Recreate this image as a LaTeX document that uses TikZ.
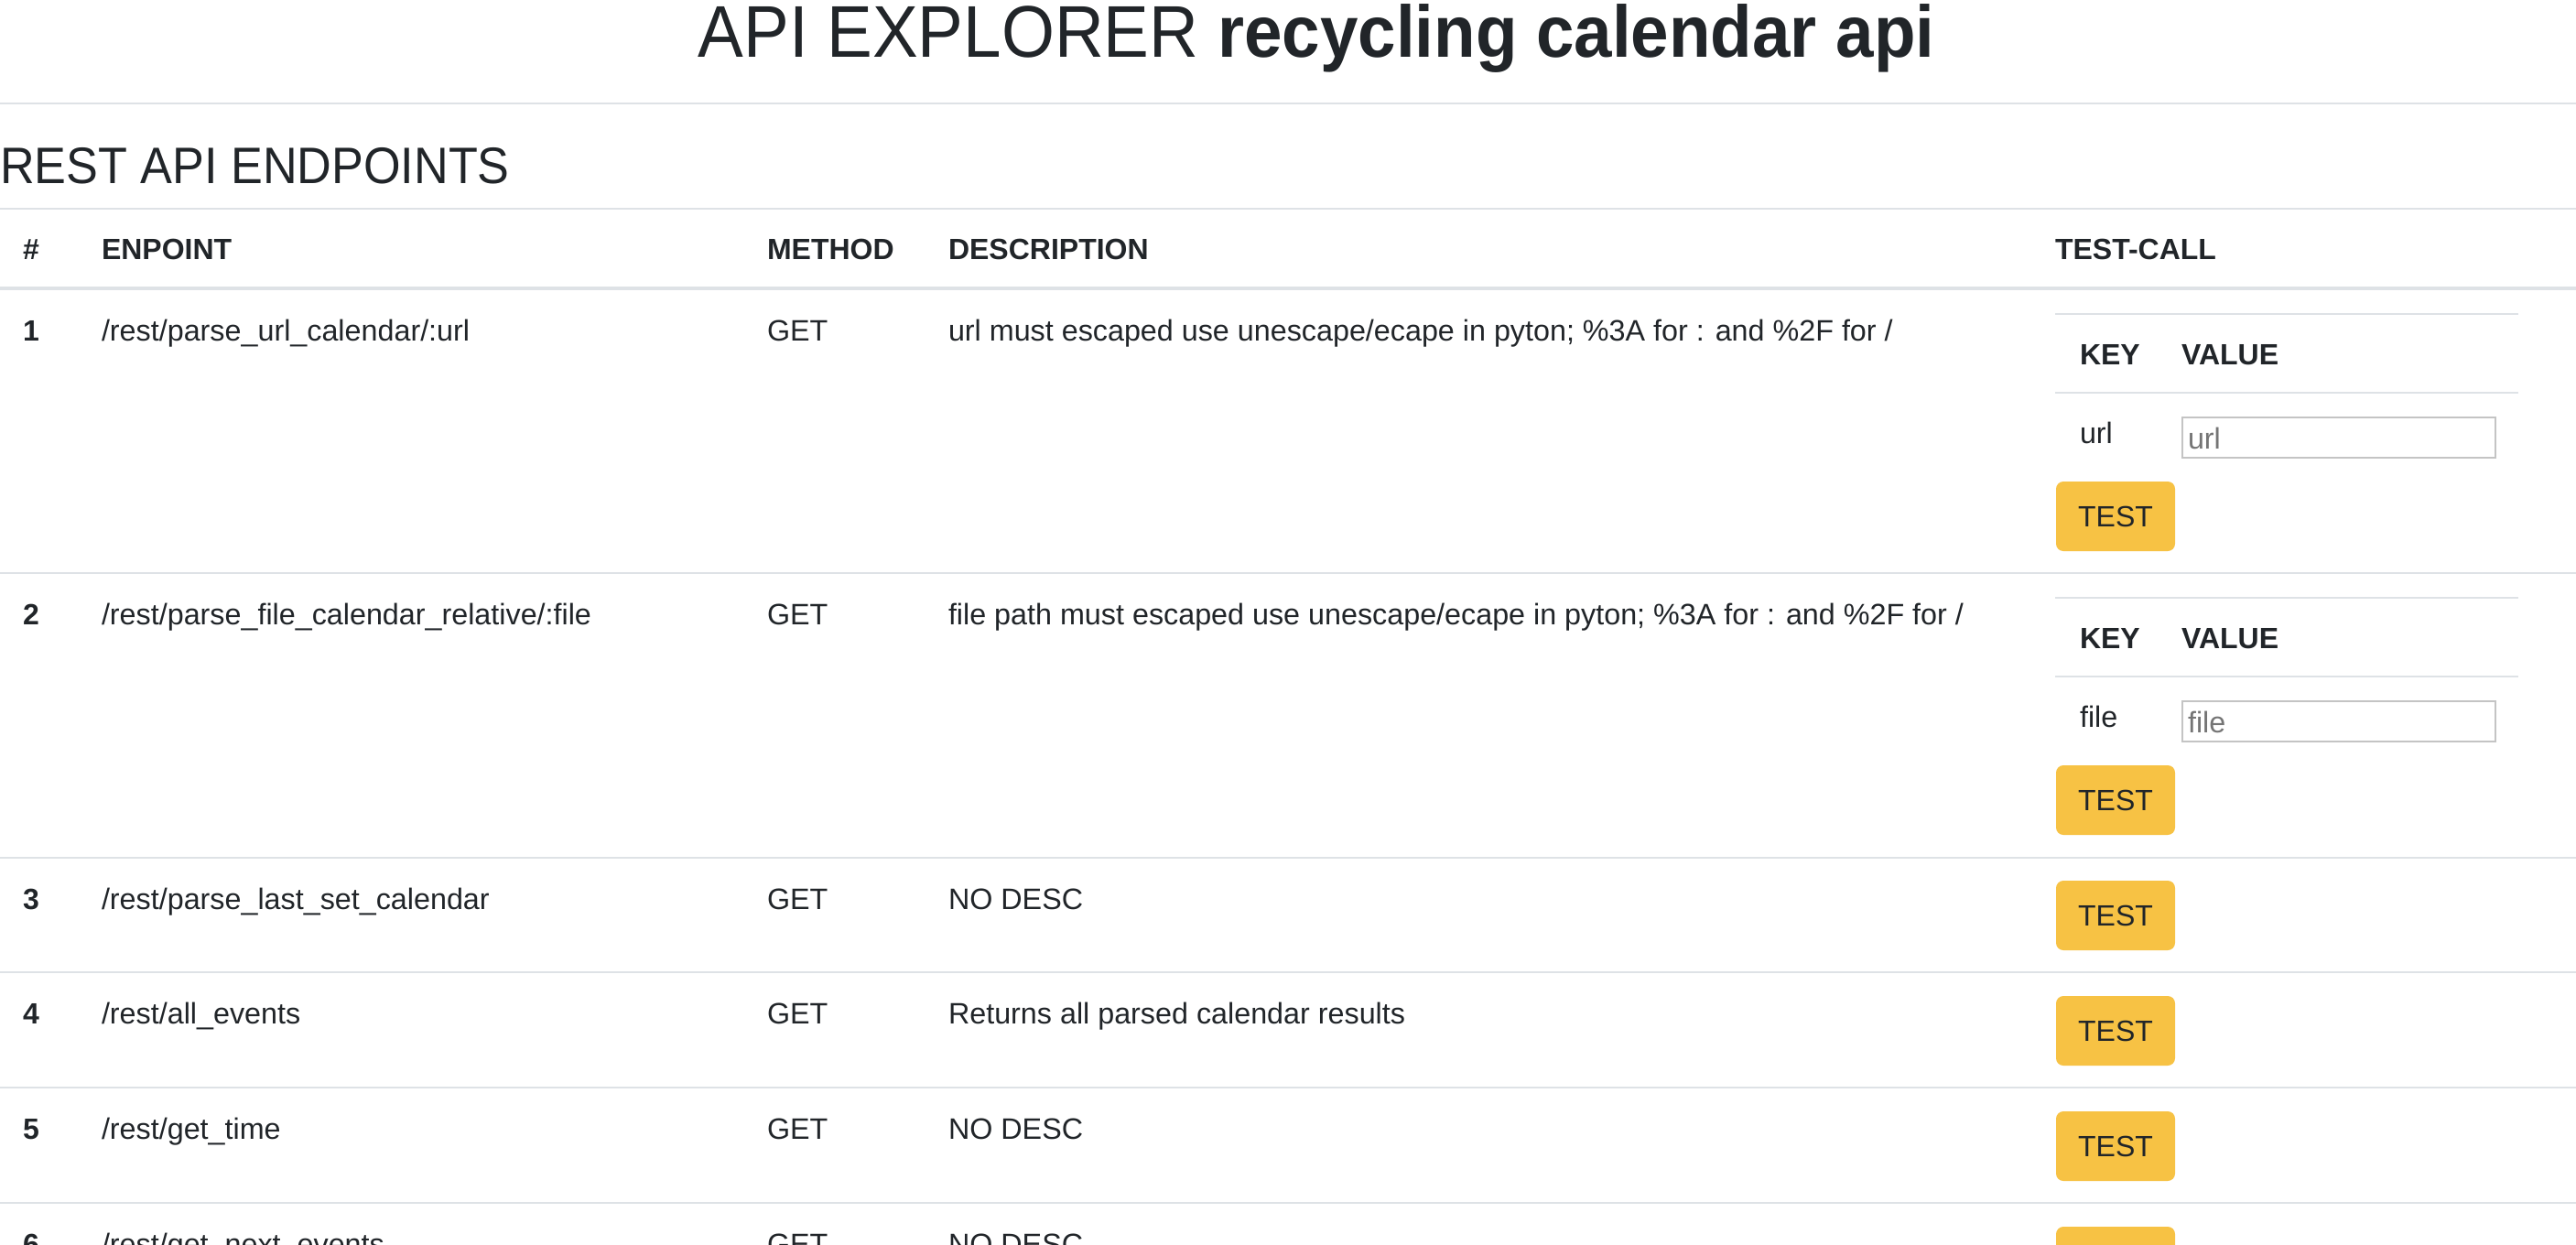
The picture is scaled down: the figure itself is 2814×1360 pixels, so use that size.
\documentclass[tikz,border=0pt]{standalone}
\usepackage{fontspec}
\setmainfont{Liberation Sans}
\newfontfamily\headfont[FakeStretch=0.932]{Liberation Sans}
\definecolor{txt}{HTML}{212529}
\definecolor{rulec}{HTML}{DEE2E6}
\definecolor{btn}{HTML}{F7C244}
\definecolor{inb}{HTML}{C4C4C4}
\definecolor{ph}{HTML}{757575}
\begin{document}
\begin{tikzpicture}[x=1pt,y=-1pt,
  body/.style={inner sep=0pt, outer sep=0pt, anchor=base west, text=txt, font=\fontsize{32.3}{38}\selectfont},
  hdr/.style={body, font=\fontsize{32}{38}\selectfont\bfseries},
  hline/.style={draw=rulec, line width=2pt},
  thick hline/.style={draw=rulec, line width=4pt},
  testbtn/.style={fill=btn, rounded corners=8pt, draw=none, inner sep=0pt, minimum width=130pt, minimum height=76pt, text=txt, font=\fontsize{32}{38}\selectfont},
  inbox/.style={draw=inb, line width=2pt},
  placeholder/.style={body, text=ph}
]
\useasboundingbox (0,0) rectangle (2814,1360);
\clip (0,0) rectangle (2814,1360);
\fill[white] (0,0) rectangle (2814,1360);

% title
\node[body, anchor=base, font=\headfont\fontsize{80}{90}\selectfont] (title) at (1438,62) {API EXPLORER \textbf{recycling calendar api}};
\draw[hline] (0,113) -- (2814,113);
\node[body, font=\headfont\fontsize{56}{64}\selectfont] (sect) at (0,200) {REST API ENDPOINTS};
\draw[hline] (0,228) -- (2814,228);

% header
\node[hdr] (hnum) at (25,283) {\#};
\node[hdr] (hend) at (111,283) {ENPOINT};
\node[hdr] (hmet) at (838,283) {METHOD};
\node[hdr] (hdesc) at (1036,283) {DESCRIPTION};
\node[hdr] (htest) at (2245,283) {TEST-CALL};
\draw[thick hline] (0,315) -- (2814,315);

% row 1
\node[hdr] (n1) at (25,372) {1};
\node[body] (e1) at (111,372) {/rest/parse\_url\_calendar/:url};
\node[body] (m1) at (838,372) {GET};
\node[body] (d1) at (1036,372) {url must escaped use unescape/ecape in pyton; \%3A for : and \%2F for /};
\draw[hline] (2245,343) -- (2751,343);
\node[hdr] (k1) at (2272,398) {KEY};
\node[hdr] (v1) at (2383,398) {VALUE};
\draw[hline] (2245,429) -- (2751,429);
\node[body] (kk1) at (2272,484) {url};
\draw[inbox] (2384,456) rectangle (2726,500);
\node[placeholder] (p1) at (2390,490) {url};
\node[testbtn] (b1) at (2311,564) {TEST};
\draw[hline] (0,626) -- (2814,626);

% row 2
\node[hdr] (n2) at (25,682) {2};
\node[body] (e2) at (111,682) {/rest/parse\_file\_calendar\_relative/:file};
\node[body] (m2) at (838,682) {GET};
\node[body] (d2) at (1036,682) {file path must escaped use unescape/ecape in pyton; \%3A for : and \%2F for /};
\draw[hline] (2245,653) -- (2751,653);
\node[hdr] (k2) at (2272,708) {KEY};
\node[hdr] (v2) at (2383,708) {VALUE};
\draw[hline] (2245,739) -- (2751,739);
\node[body] (kk2) at (2272,794) {file};
\draw[inbox] (2384,766) rectangle (2726,810);
\node[placeholder] (p2) at (2390,800) {file};
\node[testbtn] (b2) at (2311,874) {TEST};
\draw[hline] (0,937) -- (2814,937);

% row 3
\node[hdr] (n3) at (25,993) {3};
\node[body] (e3) at (111,993) {/rest/parse\_last\_set\_calendar};
\node[body] (m3) at (838,993) {GET};
\node[body] (d3) at (1036,993) {NO DESC};
\node[testbtn] (b3) at (2311,1000) {TEST};
\draw[hline] (0,1062) -- (2814,1062);

% row 4
\node[hdr] (n4) at (25,1118) {4};
\node[body] (e4) at (111,1118) {/rest/all\_events};
\node[body] (m4) at (838,1118) {GET};
\node[body] (d4) at (1036,1118) {Returns all parsed calendar results};
\node[testbtn] (b4) at (2311,1126) {TEST};
\draw[hline] (0,1188) -- (2814,1188);

% row 5
\node[hdr] (n5) at (25,1244) {5};
\node[body] (e5) at (111,1244) {/rest/get\_time};
\node[body] (m5) at (838,1244) {GET};
\node[body] (d5) at (1036,1244) {NO DESC};
\node[testbtn] (b5) at (2311,1252) {TEST};
\draw[hline] (0,1314) -- (2814,1314);

% row 6 (cut off by the lower edge, as in the reference)
\node[hdr] (n6) at (25,1370) {6};
\node[body] (e6) at (111,1370) {/rest/get\_next\_events};
\node[body] (m6) at (838,1370) {GET};
\node[body] (d6) at (1036,1370) {NO DESC};
\node[testbtn] (b6) at (2311,1378) {TEST};
\end{tikzpicture}
\end{document}
